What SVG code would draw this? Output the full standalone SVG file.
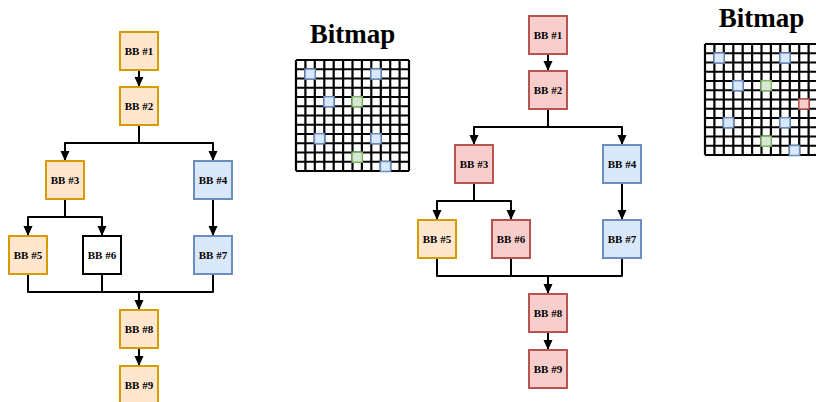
<svg xmlns="http://www.w3.org/2000/svg" width="816" height="402" viewBox="0 0 816 402">
<style>
.box{stroke-width:2;}
.or{fill:#ffe6cc;stroke:#d79b00;}
.bl{fill:#dae8fc;stroke:#6c8ebf;}
.rd{fill:#f8cecc;stroke:#b85450;}
.wh{fill:#ffffff;stroke:#000000;}
.gr{fill:#d5e8d4;stroke:#82b366;}
.lbl{font-family:"Liberation Serif","Times New Roman",serif;font-weight:bold;font-size:11px;fill:#000;text-anchor:middle;}
.title{font-family:"Liberation Serif","Times New Roman",serif;font-weight:bold;font-size:27px;fill:#000;text-anchor:middle;}
.edge{fill:none;stroke:#000;stroke-width:2;stroke-linejoin:round;}
.grid{fill:none;stroke:#000;stroke-width:2.2;}
.cell{stroke-width:1.5;}
</style>
<defs>
<marker id="arr" markerUnits="userSpaceOnUse" markerWidth="11" markerHeight="11" viewBox="0 0 11 11" refX="10" refY="5.5" orient="auto">
<path d="M0,1 L10,5.5 L0,10 Z" fill="#000"/>
</marker>
<path id="gridlines" d="M296,60V171M305.4,60V171M314.8,60V171M324.3,60V171M333.7,60V171M343.1,60V171M352.5,60V171M361.9,60V171M371.3,60V171M380.8,60V171M390.2,60V171M399.6,60V171M409,60V171M296,60H409M296,69.25H409M296,78.5H409M296,87.75H409M296,97H409M296,106.25H409M296,115.5H409M296,124.75H409M296,134H409M296,143.25H409M296,152.5H409M296,161.75H409M296,171H409"/>
</defs>

<!-- Left panel -->
<g id="left-panel">
<g id="left-connectors">
<path class="edge" d="M139,70V87" marker-end="url(#arr)"/>
<path class="edge" d="M139,125V143H65V161" marker-end="url(#arr)"/>
<path class="edge" d="M139,143H213V161" marker-end="url(#arr)"/>
<path class="edge" d="M65,199V217H28V236" marker-end="url(#arr)"/>
<path class="edge" d="M65,217H102V236" marker-end="url(#arr)"/>
<path class="edge" d="M213,199V236" marker-end="url(#arr)"/>
<path class="edge" d="M28,274V292H213V274"/>
<path class="edge" d="M102,274V292"/>
<path class="edge" d="M139,292V310" marker-end="url(#arr)"/>
<path class="edge" d="M139,348V366" marker-end="url(#arr)"/>
</g>
<g id="L-BB1"><rect class="box or" x="120" y="32" width="38" height="38"/><text class="lbl" x="139" y="54.5">BB #1</text></g>
<g id="L-BB2"><rect class="box or" x="120" y="87" width="38" height="38"/><text class="lbl" x="139" y="109.5">BB #2</text></g>
<g id="L-BB3"><rect class="box or" x="46" y="161" width="38" height="38"/><text class="lbl" x="65" y="183.5">BB #3</text></g>
<g id="L-BB4"><rect class="box bl" x="194" y="161" width="38" height="38"/><text class="lbl" x="213" y="183.5">BB #4</text></g>
<g id="L-BB5"><rect class="box or" x="9" y="236" width="38" height="38"/><text class="lbl" x="28" y="258.5">BB #5</text></g>
<g id="L-BB6"><rect class="box wh" x="83" y="236" width="38" height="38"/><text class="lbl" x="102" y="258.5">BB #6</text></g>
<g id="L-BB7"><rect class="box bl" x="194" y="236" width="38" height="38"/><text class="lbl" x="213" y="258.5">BB #7</text></g>
<g id="L-BB8"><rect class="box or" x="120" y="310" width="38" height="38"/><text class="lbl" x="139" y="332.5">BB #8</text></g>
<g id="L-BB9"><rect class="box or" x="120" y="366" width="38" height="38"/><text class="lbl" x="139" y="388.5">BB #9</text></g>
<g id="L-bitmap">
<text class="title" x="352.5" y="42.5">Bitmap</text>
<use href="#gridlines" class="grid"/>
<rect class="cell bl" x="305" y="69" width="10.2" height="10"/>
<rect class="cell bl" x="370.9" y="69" width="10.2" height="10"/>
<rect class="cell bl" x="323.9" y="96.7" width="10.2" height="10"/>
<rect class="cell gr" x="352.1" y="96.7" width="10.2" height="10"/>
<rect class="cell bl" x="314.4" y="133.7" width="10.2" height="10"/>
<rect class="cell bl" x="370.9" y="133.7" width="10.2" height="10"/>
<rect class="cell gr" x="352.1" y="152.2" width="10.2" height="10"/>
<rect class="cell bl" x="380.4" y="161.5" width="10.2" height="10"/>
</g>
</g>

<!-- Right panel -->
<g id="right-panel" transform="translate(409,-16)">
<g id="right-connectors">
<path class="edge" d="M139,70V87" marker-end="url(#arr)"/>
<path class="edge" d="M139,125V143H65V161" marker-end="url(#arr)"/>
<path class="edge" d="M139,143H213V161" marker-end="url(#arr)"/>
<path class="edge" d="M65,199V217H28V236" marker-end="url(#arr)"/>
<path class="edge" d="M65,217H102V236" marker-end="url(#arr)"/>
<path class="edge" d="M213,199V236" marker-end="url(#arr)"/>
<path class="edge" d="M28,274V292H213V274"/>
<path class="edge" d="M102,274V292"/>
<path class="edge" d="M139,292V310" marker-end="url(#arr)"/>
<path class="edge" d="M139,348V366" marker-end="url(#arr)"/>
</g>
<g id="R-BB1"><rect class="box rd" x="120" y="32" width="38" height="38"/><text class="lbl" x="139" y="54.5">BB #1</text></g>
<g id="R-BB2"><rect class="box rd" x="120" y="87" width="38" height="38"/><text class="lbl" x="139" y="109.5">BB #2</text></g>
<g id="R-BB3"><rect class="box rd" x="46" y="161" width="38" height="38"/><text class="lbl" x="65" y="183.5">BB #3</text></g>
<g id="R-BB4"><rect class="box bl" x="194" y="161" width="38" height="38"/><text class="lbl" x="213" y="183.5">BB #4</text></g>
<g id="R-BB5"><rect class="box or" x="9" y="236" width="38" height="38"/><text class="lbl" x="28" y="258.5">BB #5</text></g>
<g id="R-BB6"><rect class="box rd" x="83" y="236" width="38" height="38"/><text class="lbl" x="102" y="258.5">BB #6</text></g>
<g id="R-BB7"><rect class="box bl" x="194" y="236" width="38" height="38"/><text class="lbl" x="213" y="258.5">BB #7</text></g>
<g id="R-BB8"><rect class="box rd" x="120" y="310" width="38" height="38"/><text class="lbl" x="139" y="332.5">BB #8</text></g>
<g id="R-BB9"><rect class="box rd" x="120" y="366" width="38" height="38"/><text class="lbl" x="139" y="388.5">BB #9</text></g>
<g id="R-bitmap">
<text class="title" x="352.5" y="42.5">Bitmap</text>
<use href="#gridlines" class="grid"/>
<rect class="cell bl" x="305" y="69" width="10.2" height="10"/>
<rect class="cell bl" x="370.9" y="69" width="10.2" height="10"/>
<rect class="cell bl" x="323.9" y="96.7" width="10.2" height="10"/>
<rect class="cell gr" x="352.1" y="96.7" width="10.2" height="10"/>
<rect class="cell rd" x="389.8" y="115" width="10.2" height="10"/>
<rect class="cell bl" x="314.4" y="133.7" width="10.2" height="10"/>
<rect class="cell bl" x="370.9" y="133.7" width="10.2" height="10"/>
<rect class="cell gr" x="352.1" y="152.2" width="10.2" height="10"/>
<rect class="cell bl" x="380.4" y="161.5" width="10.2" height="10"/>
</g>
</g>
</svg>
